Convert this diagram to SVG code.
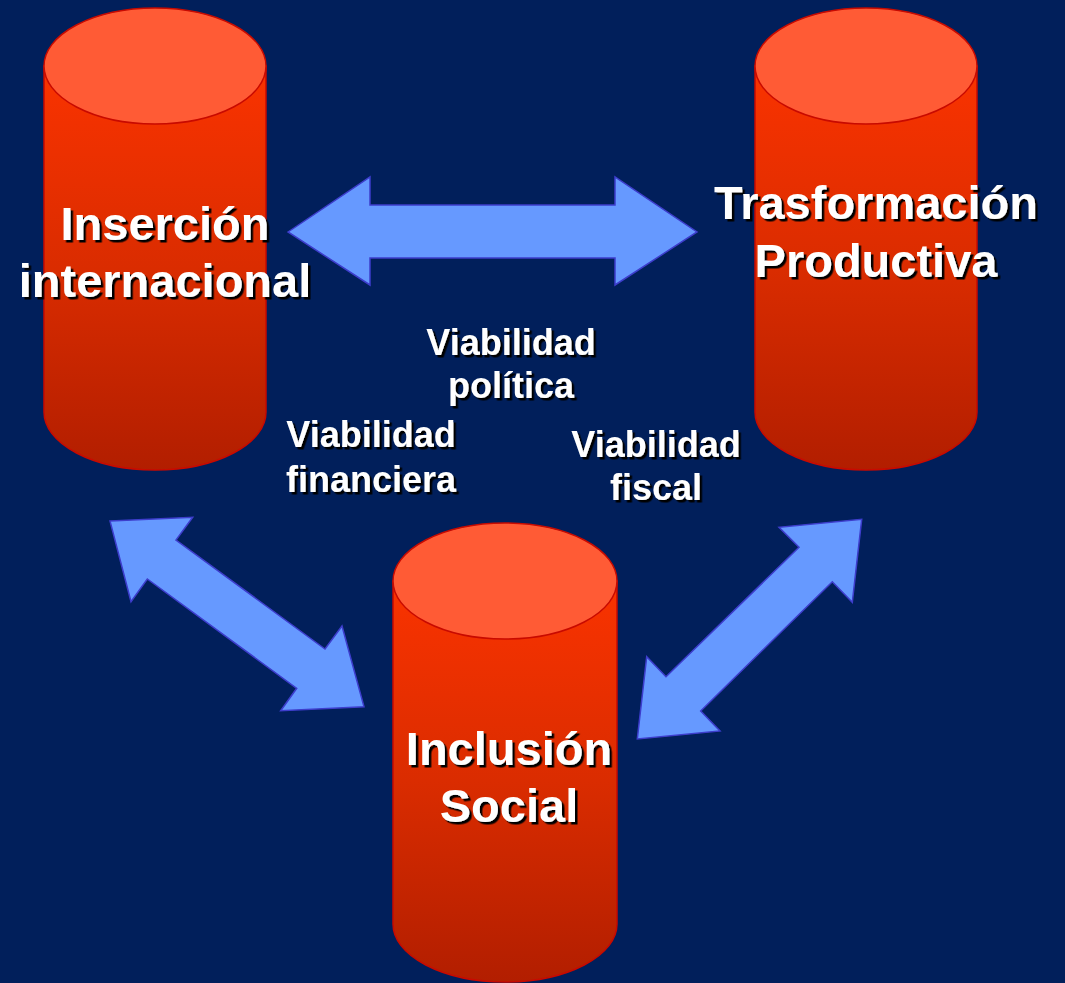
<svg xmlns="http://www.w3.org/2000/svg" width="1065" height="983" viewBox="0 0 1065 983">
<style>
.body{fill:url(#bodyGrad);stroke:#C80A00;stroke-width:1.5}
.top{fill:#FF5B35;stroke:#C80A00;stroke-width:1.5}
.arrow{fill:#6699FF;stroke:#3D3DCC;stroke-width:1.5;stroke-linejoin:miter}
.big{font-family:"Liberation Sans",Arial,sans-serif;font-weight:bold;font-size:47px;fill:#FFFFFF;text-anchor:middle;filter:url(#shadow)}
.small{font-family:"Liberation Sans",Arial,sans-serif;font-weight:bold;font-size:36px;fill:#FFFFFF;text-anchor:middle;filter:url(#shadow)}
</style>
<defs>
<linearGradient id="bodyGrad" x1="0" y1="0" x2="0" y2="1">
<stop offset="0" stop-color="#FA3300"/>
<stop offset="0.5" stop-color="#DA2C00"/>
<stop offset="1" stop-color="#B21E00"/>
</linearGradient>
<filter id="shadow" x="-10%" y="-20%" width="130%" height="150%">
<feDropShadow dx="2.5" dy="2.5" stdDeviation="0.3" flood-color="#000000" flood-opacity="1"/>
</filter>
</defs>
<rect x="0" y="0" width="1065" height="983" fill="#011F5B"/>

<g id="node-insercion">
<path class="body" d="M44,66 L44,412 A111,58 0 0 0 266,412 L266,66 Z"/>
<ellipse class="top" cx="155" cy="66" rx="111" ry="58"/>
</g>
<g id="node-trasformacion">
<path class="body" d="M755,66 L755,412 A111,58 0 0 0 977,412 L977,66 Z"/>
<ellipse class="top" cx="866" cy="66" rx="111" ry="58"/>
</g>
<g id="node-inclusion">
<path class="body" d="M393,581 L393,924 A112,58 0 0 0 617,924 L617,581 Z"/>
<ellipse class="top" cx="505" cy="581" rx="112" ry="58"/>
</g>

<g id="connectors">
<polygon class="arrow" points="288,232 370,177 370,205 615,205 615,177 697,232 615,285 615,258 370,258 370,285"/>
<polygon class="arrow" points="110,521 192.7,517.3 176,540 325,649 342,626 364,706.7 280.7,710.7 296.7,688.3 147.3,579 131,601.7"/>
<polygon class="arrow" points="861.7,519.3 852.3,602.3 832.3,581.7 700.7,711 720,731 637.3,739 646.7,656.7 666,676.7 799,547.3 779,527.3"/>
</g>

<g id="labels-nodes">
<text class="big" x="165" y="240">Inserción</text>
<text class="big" x="165" y="297">internacional</text>
<text class="big" x="876" y="219">Trasformación</text>
<text class="big" x="876" y="277">Productiva</text>
<text class="big" x="509" y="765">Inclusión</text>
<text class="big" x="509" y="822">Social</text>
</g>
<g id="labels-edges">
<text class="small" x="511" y="355">Viabilidad</text>
<text class="small" x="511" y="398">política</text>
<text class="small" x="371" y="447">Viabilidad</text>
<text class="small" x="371" y="492">financiera</text>
<text class="small" x="656" y="457">Viabilidad</text>
<text class="small" x="656" y="500">fiscal</text>
</g>
</svg>
